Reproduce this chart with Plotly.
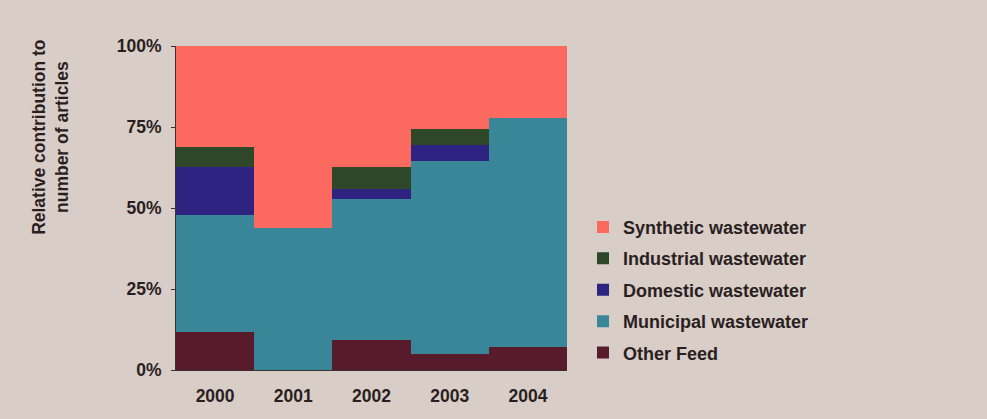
import plotly.graph_objects as go

years = ["2000", "2001", "2002", "2003", "2004"]

# Share of articles (%) per feed type, bottom of the stack first
other_feed = [11.6, 0.0, 9.4, 5.0, 7.0]
municipal = [36.2, 43.8, 43.4, 59.6, 70.9]
domestic = [14.8, 0.0, 3.1, 4.9, 0.0]
industrial = [6.2, 0.0, 6.9, 4.8, 0.0]
synthetic = [31.2, 56.2, 37.2, 25.7, 22.1]

series = [
    ("Other Feed", other_feed, "#571b2c"),
    ("Municipal wastewater", municipal, "#3a8699"),
    ("Domestic wastewater", domestic, "#2e2380"),
    ("Industrial wastewater", industrial, "#2e4729"),
    ("Synthetic wastewater", synthetic, "#fc6a5f"),
]

font_family = "Liberation Sans, Arial, sans-serif"
text_color = "#2a1f1f"

fig = go.Figure()
n = len(series)
for i, (name, vals, color) in enumerate(series):
    fig.add_trace(go.Bar(
        x=years, y=vals, name=name, legendgroup=name,
        legendrank=n - i,  # top of the stack listed first
        marker=dict(color=color, line=dict(width=0)),
    ))

fig.update_layout(
    width=987, height=419,
    barmode="stack", barnorm="percent", bargap=0,
    paper_bgcolor="#d9cdc8", plot_bgcolor="#d9cdc8",
    margin=dict(l=176, r=420, t=46, b=48.5),
    font=dict(family=font_family, color=text_color, size=17, weight="bold"),
    xaxis=dict(
        showgrid=False, showline=True, linecolor="#3a3030", linewidth=1,
        ticks="outside", ticklen=0, ticklabelstandoff=10,
        tickfont=dict(size=17.5, weight="bold"),
    ),
    yaxis=dict(
        range=[0, 100], tickvals=[0, 25, 50, 75, 100],
        ticktext=["0%", "25%", "50%", "75%", "100%"],
        showgrid=False, showline=True, linecolor="#3a3030", linewidth=1,
        ticks="outside", ticklen=4, tickcolor="#3a3030",
        ticklabelstandoff=6,
        tickfont=dict(size=17.5, weight="bold"), zeroline=False,
    ),
    legend=dict(
        x=(583 - 176) / 391, y=(370.5 - 209) / 324.5,
        xanchor="left", yanchor="top",
        traceorder="grouped", tracegroupgap=5,
        font=dict(size=18, weight="bold"), bgcolor="rgba(0,0,0,0)",
    ),
    showlegend=True,
)

fig.add_annotation(
    text="Relative contribution to<br>number of articles",
    xref="paper", yref="paper",
    x=(51 - 176) / 391, y=(370.5 - 138) / 324.5,
    xanchor="center", yanchor="middle", textangle=-90, showarrow=False,
    font=dict(size=17.5, weight="bold", color=text_color),
)

fig.write_html("out.html")
